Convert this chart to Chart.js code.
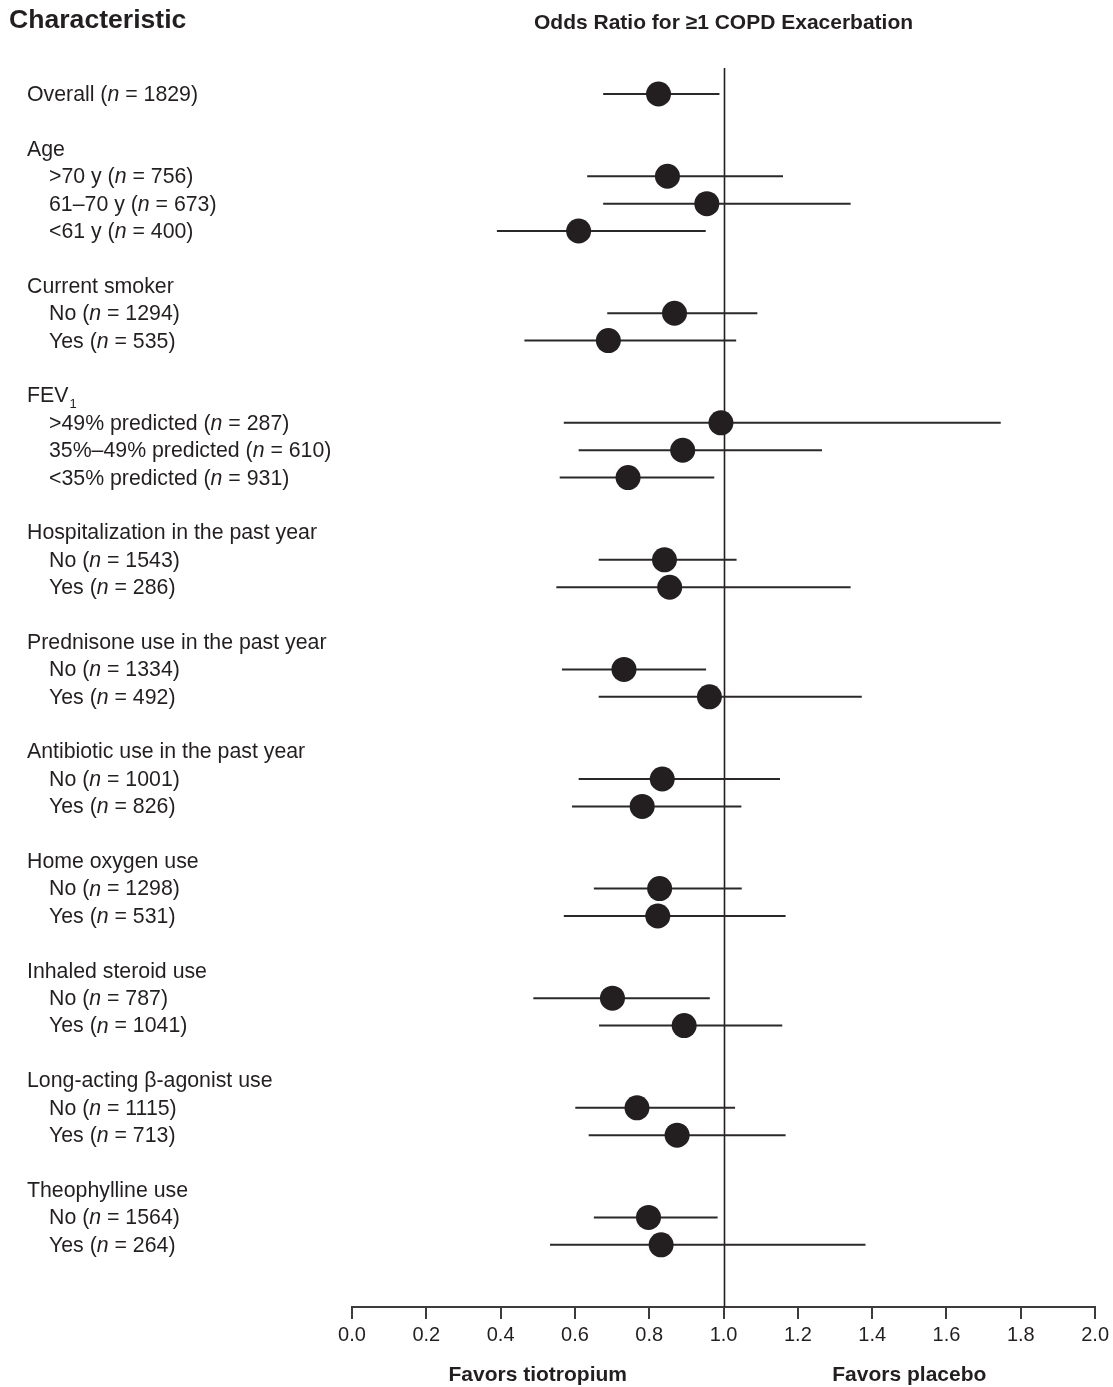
<!DOCTYPE html>
<html><head><meta charset="utf-8">
<script src="https://cdn.jsdelivr.net/npm/chart.js@4"></script>
<style>html,body{margin:0;padding:0;background:#fff}#wrap{width:1113px;height:1387px;position:relative}</style>
</head><body><div id="wrap"><canvas id="c"></canvas></div>
<script>
// ---- data ----
const categories = ['Overall','Age','>70 y','61–70 y','<61 y','Current smoker','No','Yes','FEV1','>49% predicted','35%–49% predicted','<35% predicted','Hospitalization in the past year','No','Yes','Prednisone use in the past year','No','Yes','Antibiotic use in the past year','No','Yes','Home oxygen use','No','Yes','Inhaled steroid use','No','Yes','Long-acting β-agonist use','No','Yes','Theophylline use','No','Yes'];
const levels    = [0,0,1,1,1,0,1,1,0,1,1,1,0,1,1,0,1,1,0,1,1,0,1,1,0,1,1,0,1,1,0,1,1];
const sampleN   = [1829,null,756,673,400,null,1294,535,null,287,610,931,null,1543,286,null,1334,492,null,1001,826,null,1298,531,null,787,1041,null,1115,713,null,1564,264];
const oddsRatio = [0.825,null,0.849,0.955,0.610,null,0.868,0.690,null,0.993,0.890,0.743,null,0.841,0.855,null,0.732,0.962,null,0.835,0.781,null,0.828,0.823,null,0.701,0.894,null,0.767,0.875,null,0.798,0.832];
const ciLower   = [0.676,null,0.633,0.676,0.390,null,0.687,0.464,null,0.570,0.610,0.559,null,0.664,0.550,null,0.565,0.664,null,0.610,0.592,null,0.651,0.570,null,0.488,0.665,null,0.601,0.637,null,0.651,0.533];
const ciUpper   = [0.989,null,1.160,1.342,0.952,null,1.091,1.034,null,1.746,1.265,0.975,null,1.035,1.342,null,0.953,1.372,null,1.152,1.048,null,1.049,1.167,null,0.963,1.158,null,1.031,1.167,null,0.984,1.382];
const xTickValues = [0,0.2,0.4,0.6,0.8,1.0,1.2,1.4,1.6,1.8,2.0];
const xTickLabels = ['0.0','0.2','0.4','0.6','0.8','1.0','1.2','1.4','1.6','1.8','2.0'];
const chartTitle = 'Odds Ratio for ≥1 COPD Exacerbation';
const columnTitle = 'Characteristic';
const favorLabels = [{v:0.5, t:'Favors tiotropium'},{v:1.5, t:'Favors placebo'}];
const refValue = 1.0;

// row index: a blank row before each top-level group (except the first)
const rowPos = [];
(function(){let r=0;for(let i=0;i<categories.length;i++){if(levels[i]===0&&i>0)r++;rowPos.push(r);r++;}})();

const INK = '#231f20';
const FONT = '"Liberation Sans", Arial, sans-serif';

const dotData = [];
const ciSets = [];
for (let i=0;i<categories.length;i++){
  if (oddsRatio[i]==null) continue;
  dotData.push({x:oddsRatio[i], y:rowPos[i]});
  ciSets.push({type:'line', data:[{x:ciLower[i],y:rowPos[i]},{x:ciUpper[i],y:rowPos[i]}],
    borderColor:'#2b2829', borderWidth:2, pointRadius:0, fill:false, order:2});
}

const drawPlugin = {
  id:'forestText',
  beforeDatasetsDraw(chart){
    const {ctx, chartArea, scales:{x}} = chart;
    const px = Math.round(x.getPixelForValue(refValue))+0.5;
    ctx.save(); ctx.strokeStyle=INK; ctx.lineWidth=1.6;
    ctx.beginPath(); ctx.moveTo(px, chartArea.top); ctx.lineTo(px, chartArea.bottom); ctx.stroke();
    ctx.restore();
  },
  afterDraw(chart){
    const {ctx, chartArea, scales:{x,y}} = chart;
    ctx.save();
    ctx.fillStyle = INK;
    ctx.textBaseline = 'middle';
    // headers
    ctx.font = 'bold 26.6px '+FONT; ctx.textAlign='left';
    ctx.fillText(columnTitle, 9, 21);
    ctx.font = 'bold 21px '+FONT; ctx.textAlign='center';
    ctx.fillText(chartTitle, (chartArea.left+chartArea.right)/2, 23);
    favorLabels.forEach(f=>ctx.fillText(f.t, x.getPixelForValue(f.v), 1375));
    // row labels
    ctx.textAlign='left';
    for (let i=0;i<categories.length;i++){
      let cx = levels[i]===0 ? 27 : 49;
      const cy = y.getPixelForValue(rowPos[i]) + 1;
      const normal = '21.3px '+FONT, ital = 'italic 21.3px '+FONT;
      ctx.font = normal;
      if (categories[i]==='FEV1'){
        ctx.fillText('FEV', cx, cy);
        const w = ctx.measureText('FEV').width;
        ctx.font = '13px '+FONT;
        ctx.fillText('1', cx+w+1, cy+8);
        continue;
      }
      if (sampleN[i]==null){ ctx.fillText(categories[i], cx, cy); continue; }
      const parts = [[categories[i]+' (', normal],['n', ital],[' = '+sampleN[i]+')', normal]];
      parts.forEach(([t,f])=>{ ctx.font=f; ctx.fillText(t, cx, cy); cx += ctx.measureText(t).width; });
    }
    ctx.restore();
  }
};

new Chart(document.getElementById('c'), {
  type:'scatter',
  data:{ datasets:[
    {type:'scatter', data:dotData, pointRadius:12.5, pointHoverRadius:12.5, backgroundColor:INK, borderWidth:0, order:1},
    ...ciSets
  ]},
  options:{
    responsive:true, maintainAspectRatio:false, animation:false,
    layout:{padding:{left:352, right:16, top:68, bottom:0}},
    plugins:{legend:{display:false}, tooltip:{enabled:false}, title:{display:false}},
    scales:{
      x:{type:'linear', min:0, max:2,
        afterBuildTicks(s){ s.ticks = xTickValues.map(v=>({value:v})); },
        afterFit(s){ s.height = 80; },
        ticks:{ callback:(v)=>xTickLabels[xTickValues.findIndex(t=>Math.abs(t-v)<1e-9)], color:INK, font:{family:FONT, size:20}, padding:4, maxRotation:0, autoSkip:false },
        grid:{ drawOnChartArea:false, drawTicks:true, tickLength:12, color:'#3d3b3c', tickColor:'#3d3b3c', lineWidth:2, tickWidth:2 },
        border:{ display:true, color:'#3d3b3c', width:2 }
      },
      y:{type:'linear', reverse:true, min:-0.95, max:44.27, display:false}
    }
  },
  plugins:[drawPlugin]
});
</script>
</body></html>
